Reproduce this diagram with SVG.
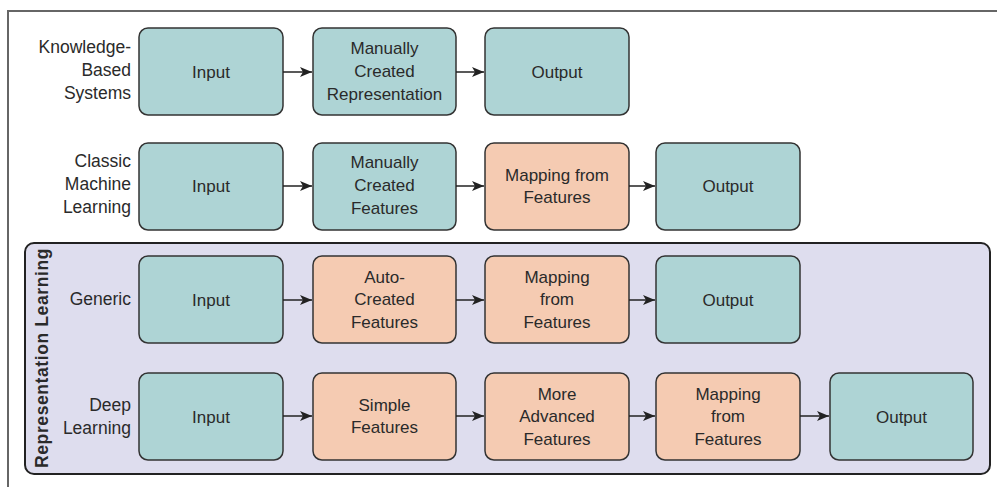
<svg xmlns="http://www.w3.org/2000/svg" width="997" height="487" viewBox="0 0 997 487">
<style>
text{font-family:"Liberation Sans",Arial,sans-serif;font-size:17px;fill:#2a2a2a}
.b rect{stroke:#333;stroke-width:1.5}
.t rect{fill:#AED4D5}
.s rect{fill:#F5CBB2}
.m{text-anchor:middle}
.l{text-anchor:end;font-size:17.5px}
.c line{stroke:#222;stroke-width:1.5;marker-end:url(#ah)}
</style>
<defs>
<marker id="ah" viewBox="0 0 12 10" refX="12" refY="5" markerWidth="12" markerHeight="10" markerUnits="userSpaceOnUse" orient="auto">
<path d="M0,0 L12,5 L0,10 L3,5 Z" fill="#222"/>
</marker>
</defs>
<rect x="0" y="0" width="997" height="487" fill="#fff"/>
<path d="M8,487 V11 H997" fill="none" stroke="#666" stroke-width="2"/>
<g id="group-rep">
<rect x="25" y="243" width="965" height="231" rx="9" fill="#DEDDEE" stroke="#222" stroke-width="2"/>
<text transform="translate(48,358) rotate(-90)" class="m" style="font-weight:bold;font-size:17.5px;letter-spacing:0.6px">Representation Learning</text>
</g>
<g id="labels">
<text class="l" x="131" y="53">Knowledge-</text>
<text class="l" x="131" y="76">Based</text>
<text class="l" x="131" y="99">Systems</text>
<text class="l" x="131" y="167">Classic</text>
<text class="l" x="131" y="190">Machine</text>
<text class="l" x="131" y="213">Learning</text>
<text class="l" x="131" y="305">Generic</text>
<text class="l" x="131" y="411">Deep</text>
<text class="l" x="131" y="434">Learning</text>
</g>
<g id="r1-input" class="b t"><rect x="139" y="28" width="144" height="87" rx="9"/><text class="m" x="211" y="78">Input</text></g>
<g id="r1-rep" class="b t"><rect x="313" y="28" width="143" height="87" rx="9"/><text class="m" x="384.5" y="54">Manually</text><text class="m" x="384.5" y="77">Created</text><text class="m" x="384.5" y="100">Representation</text></g>
<g id="r1-output" class="b t"><rect x="485" y="28" width="144" height="87" rx="9"/><text class="m" x="557" y="78">Output</text></g>
<g id="r2-input" class="b t"><rect x="139" y="143" width="144" height="87" rx="9"/><text class="m" x="211" y="192">Input</text></g>
<g id="r2-feat" class="b t"><rect x="313" y="143" width="143" height="87" rx="9"/><text class="m" x="384.5" y="168">Manually</text><text class="m" x="384.5" y="191">Created</text><text class="m" x="384.5" y="214">Features</text></g>
<g id="r2-map" class="b s"><rect x="485" y="143" width="144" height="87" rx="9"/><text class="m" x="557" y="181">Mapping from</text><text class="m" x="557" y="203">Features</text></g>
<g id="r2-output" class="b t"><rect x="656" y="143" width="144" height="87" rx="9"/><text class="m" x="728" y="192">Output</text></g>
<g id="r3-input" class="b t"><rect x="139" y="256" width="144" height="87" rx="9"/><text class="m" x="211" y="306">Input</text></g>
<g id="r3-auto" class="b s"><rect x="313" y="256" width="143" height="87" rx="9"/><text class="m" x="384.5" y="283">Auto-</text><text class="m" x="384.5" y="305">Created</text><text class="m" x="384.5" y="328">Features</text></g>
<g id="r3-map" class="b s"><rect x="485" y="256" width="144" height="87" rx="9"/><text class="m" x="557" y="283">Mapping</text><text class="m" x="557" y="305">from</text><text class="m" x="557" y="328">Features</text></g>
<g id="r3-output" class="b t"><rect x="656" y="256" width="144" height="87" rx="9"/><text class="m" x="728" y="306">Output</text></g>
<g id="r4-input" class="b t"><rect x="139" y="373" width="144" height="87" rx="9"/><text class="m" x="211" y="423">Input</text></g>
<g id="r4-simple" class="b s"><rect x="313" y="373" width="143" height="87" rx="9"/><text class="m" x="384.5" y="411">Simple</text><text class="m" x="384.5" y="433">Features</text></g>
<g id="r4-adv" class="b s"><rect x="485" y="373" width="144" height="87" rx="9"/><text class="m" x="557" y="400">More</text><text class="m" x="557" y="422">Advanced</text><text class="m" x="557" y="445">Features</text></g>
<g id="r4-map" class="b s"><rect x="656" y="373" width="144" height="87" rx="9"/><text class="m" x="728" y="400">Mapping</text><text class="m" x="728" y="422">from</text><text class="m" x="728" y="445">Features</text></g>
<g id="r4-output" class="b t"><rect x="830" y="373" width="143" height="87" rx="9"/><text class="m" x="901.5" y="423">Output</text></g>
<g id="connectors" class="c">
<line x1="283" y1="72" x2="312" y2="72"/>
<line x1="456" y1="72" x2="484" y2="72"/>
<line x1="283" y1="186" x2="312" y2="186"/>
<line x1="456" y1="186" x2="484" y2="186"/>
<line x1="629" y1="186" x2="655" y2="186"/>
<line x1="283" y1="300" x2="312" y2="300"/>
<line x1="456" y1="300" x2="484" y2="300"/>
<line x1="629" y1="300" x2="655" y2="300"/>
<line x1="283" y1="416" x2="312" y2="416"/>
<line x1="456" y1="416" x2="484" y2="416"/>
<line x1="629" y1="416" x2="655" y2="416"/>
<line x1="800" y1="416" x2="829" y2="416"/>
</g>
</svg>
